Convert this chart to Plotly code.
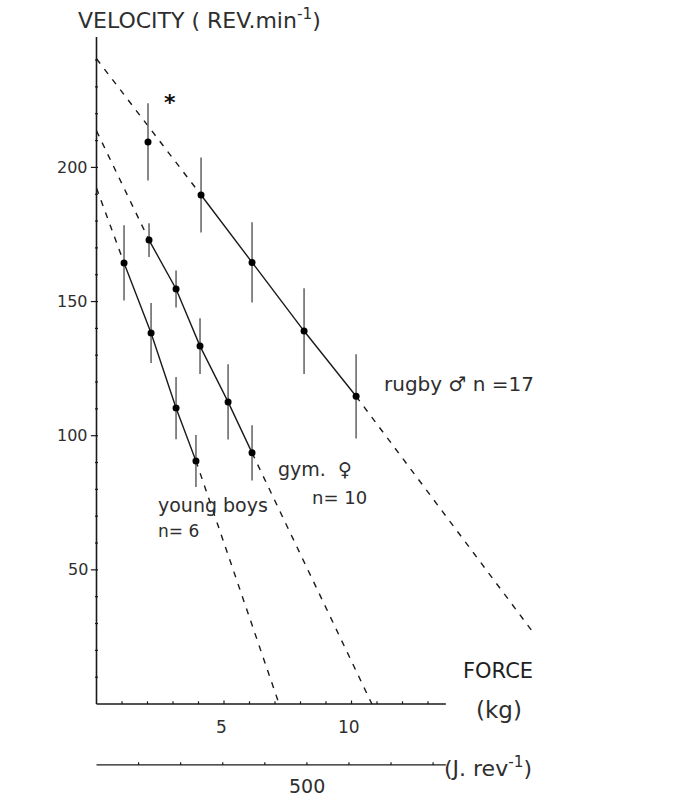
import plotly.graph_objects as go

# ---- data: force (kg) vs velocity (rev/min), mean +/- SD ----
rugby_force = [2.02, 4.10, 6.10, 8.14, 10.18]
rugby_vel = [209.5, 189.7, 164.6, 139.0, 114.7]
rugby_sd = [14.4, 14.0, 15.0, 16.0, 15.7]

gym_force = [2.06, 3.12, 4.06, 5.16, 6.10]
gym_vel = [172.9, 154.7, 133.4, 112.6, 93.6]
gym_sd = [6.3, 6.9, 10.4, 14.0, 10.3]

boys_force = [1.08, 2.14, 3.12, 3.90]
boys_vel = [164.4, 138.3, 110.3, 90.6]
boys_sd = [14.0, 11.2, 11.6, 9.7]

# extrapolated force-velocity relations: intercepts on each axis
rugby_v0, rugby_end = 240.5, (17.2, 25.7)
gym_v0, gym_f0 = 213.6, 10.8
boys_v0, boys_f0 = 192.3, 7.16

y_major = [50, 100, 150, 200]
x_major = [5, 10]
joule_major = [500]
KG_PER_100J = 1.65          # 100 J/rev expressed in kg of braking force
X_AXIS_END = 13.7
Y_AXIS_END = 248.6
J_AXIS_Y = -22.7

# plotting frame (pixel scale: 25.5 px per kg, 2.683 px per rev/min)
XR = [-96.5 / 25.5, (684 - 96.5) / 25.5]
YR = [-(805 - 704) / 2.683, 704 / 2.683]

INK = "#1a1a1a"
BAR = "#6a6a6a"
TXT = "#2e2e2e"
FONT = "DejaVu Sans"

fig = go.Figure()


def line(xs, ys, dash=None, width=1.4, color=INK):
    fig.add_trace(go.Scatter(x=xs, y=ys, mode="lines", hoverinfo="skip",
                             line=dict(color=color, width=width, dash=dash)))


DASH = "6px,7px"

# dashed extrapolations
line([0, rugby_force[1]], [rugby_v0, rugby_vel[1]], DASH)
line([rugby_force[-1], rugby_end[0]], [rugby_vel[-1], rugby_end[1]], DASH)
line([0, gym_force[0]], [gym_v0, gym_vel[0]], DASH)
line([gym_force[-1], gym_f0], [gym_vel[-1], 0], DASH)
line([0, boys_force[0]], [boys_v0, boys_vel[0]], DASH)
line([boys_force[-1], boys_f0], [boys_vel[-1], 0], DASH)

# solid lines through measured points
line(rugby_force[1:], rugby_vel[1:])
line(gym_force, gym_vel)
line(boys_force, boys_vel)

# points with SD bars
for fx, vy, sd in [(rugby_force, rugby_vel, rugby_sd),
                   (gym_force, gym_vel, gym_sd),
                   (boys_force, boys_vel, boys_sd)]:
    fig.add_trace(go.Scatter(
        x=fx, y=vy, mode="markers", hoverinfo="skip",
        marker=dict(color="#000", size=7),
        error_y=dict(type="data", array=sd, visible=True,
                     color=BAR, thickness=1.6, width=0)))

# ---- hand-drawn style axes ----
line([0, 0], [0, Y_AXIS_END], width=1.6)
line([0, X_AXIS_END], [0, 0], width=1.6)
line([0, X_AXIS_END], [J_AXIS_Y, J_AXIS_Y], width=1.4)

tx, ty = [], []
for v in range(10, int(Y_AXIS_END), 10):
    major = v in y_major
    tx += [-0.22 if major else -0.06, 0.06, None]
    ty += [v, v, None]
for k in range(1, int(X_AXIS_END) + 1):
    tx += [k, k, None]
    ty += [0, 1.3 if k in x_major else 1.0, None]
j = 1
while j * KG_PER_100J < X_AXIS_END:
    tx += [j * KG_PER_100J, j * KG_PER_100J, None]
    ty += [J_AXIS_Y, J_AXIS_Y + 1.0, None]
    j += 1
line(tx, ty, width=1.2)


# ---- text ----
def label(x, y, text, size=15, xanchor="center", yanchor="middle",
          ref="data", color=TXT, family=FONT):
    fig.add_annotation(x=x, y=y, xref="x" if ref == "data" else "paper",
                       yref="y" if ref == "data" else "paper",
                       text=text, showarrow=False, xanchor=xanchor,
                       yanchor=yanchor, font=dict(size=size, color=color,
                                                  family=family))


for v in y_major:
    label(-0.25, v, str(v), size=16, xanchor="right")
for k in x_major:
    label(k - 0.1, -8.5, str(k), size=17)
for jv in joule_major:
    label(jv / 100 * KG_PER_100J, -30.5, str(jv), size=19)


def px(xp, yp):
    return xp / 684, 1 - yp / 805


x0, y0 = px(76, 19)
label(x0, y0, "VELOCITY ( REV.min<sup>-1</sup>)", size=22,
      xanchor="left", ref="paper")
x0, y0 = px(170, 102)
label(x0, y0, "<b>*</b>", size=22, ref="paper", color="#111")
x0, y0 = px(382, 384)
label(x0, y0, "rugby ♂ n =17", size=20, xanchor="left", ref="paper")
x0, y0 = px(276, 469)
label(x0, y0, "gym.  ♀", size=19, xanchor="left", ref="paper")
x0, y0 = px(310, 497)
label(x0, y0, "n= 10", size=18, xanchor="left", ref="paper")
x0, y0 = px(156, 505)
label(x0, y0, "young boys", size=19, xanchor="left", ref="paper")
x0, y0 = px(156, 531)
label(x0, y0, "n= 6", size=17, xanchor="left", ref="paper")
x0, y0 = px(498, 671)
label(x0, y0, "FORCE", size=21, ref="paper", color="#1e1e1e")
x0, y0 = px(499, 710)
label(x0, y0, "(kg)", size=23, ref="paper")
x0, y0 = px(442, 767)
label(x0, y0, "(J. rev<sup>-1</sup>)", size=22, xanchor="left", ref="paper")

fig.update_layout(
    width=684, height=805,
    margin=dict(l=0, r=0, t=0, b=0),
    paper_bgcolor="white", plot_bgcolor="white",
    showlegend=False,
    xaxis=dict(range=XR, visible=False, fixedrange=True),
    yaxis=dict(range=YR, visible=False, fixedrange=True),
)

fig.write_html("out.html")
